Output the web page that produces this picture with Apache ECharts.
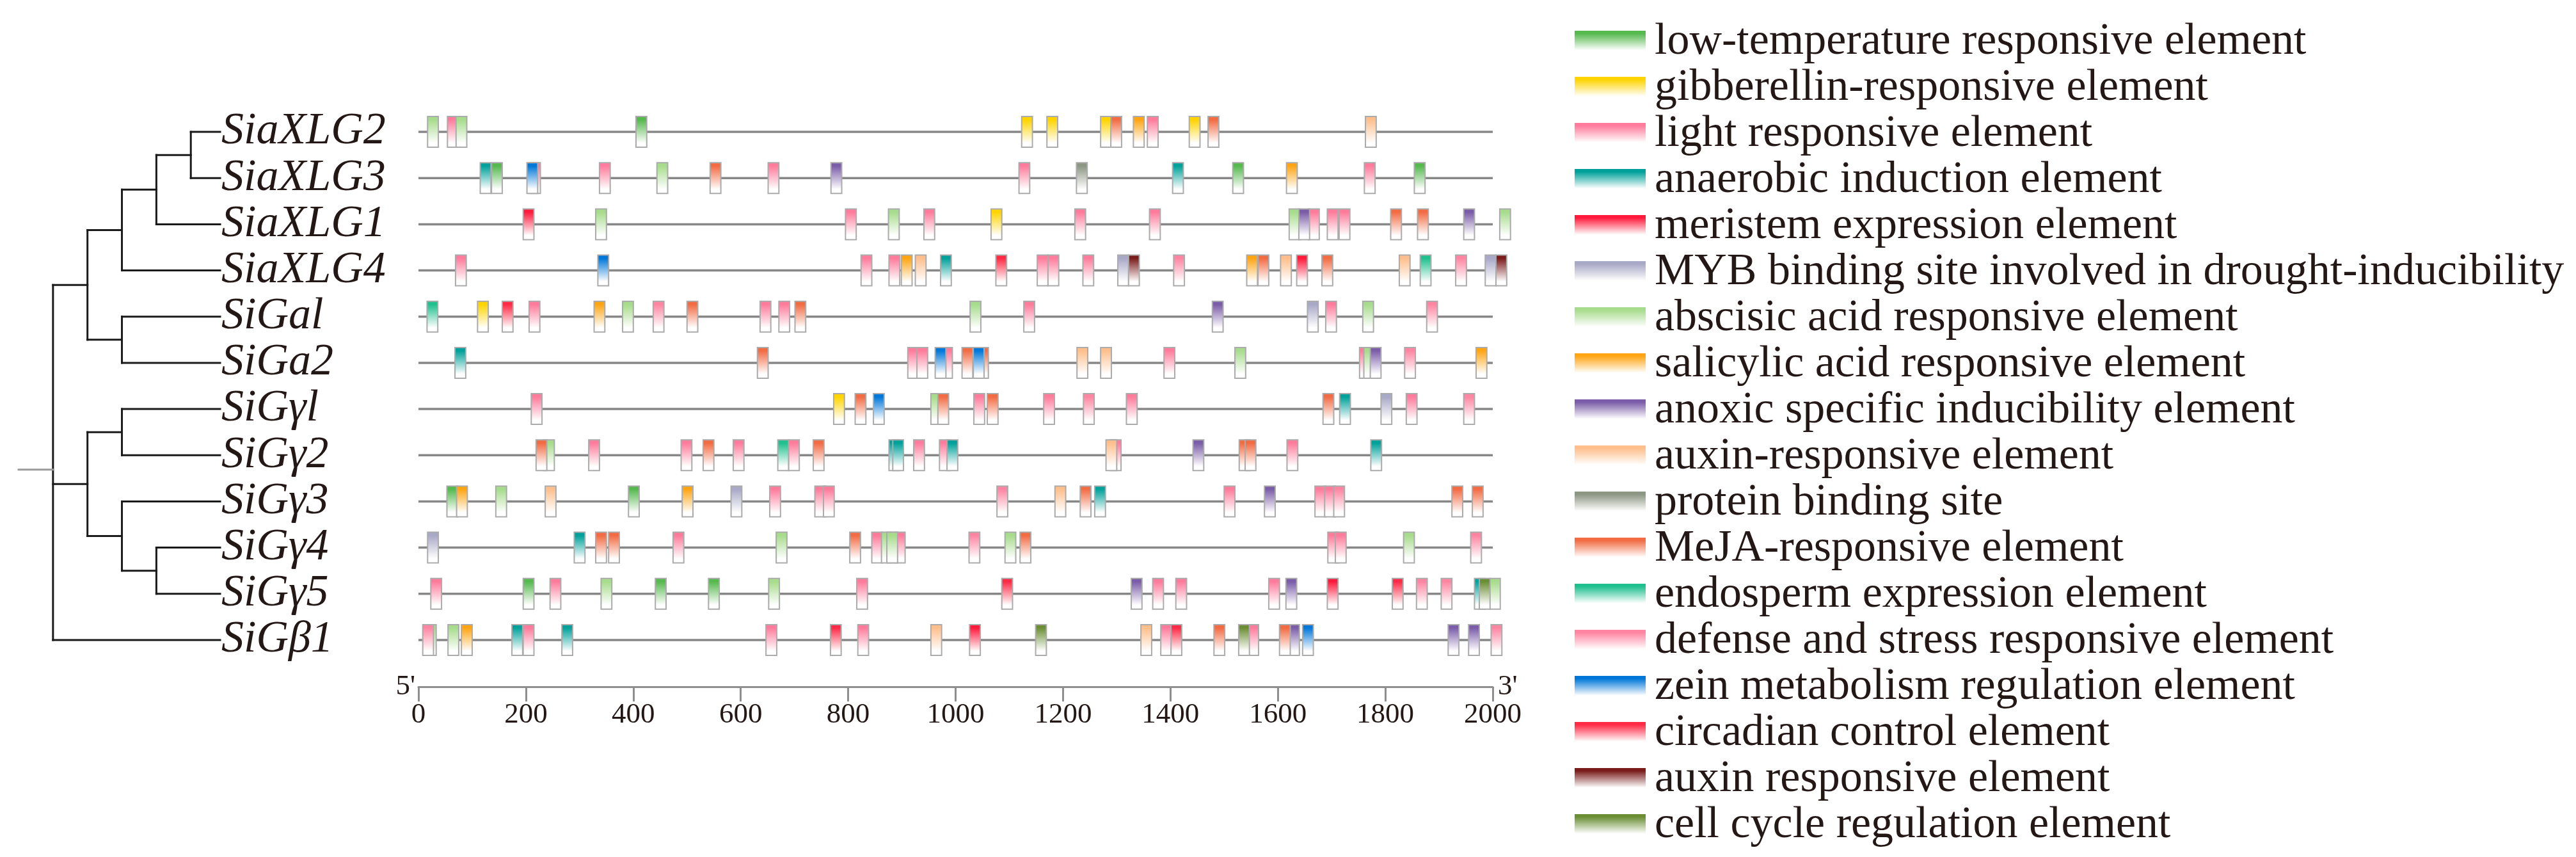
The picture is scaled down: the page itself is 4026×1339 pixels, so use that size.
<!DOCTYPE html>
<html>
<head>
<meta charset="utf-8">
<title>cis-acting elements</title>
<script src="https://cdn.jsdelivr.net/npm/echarts@6/dist/echarts.min.js"></script>
<style>
html, body { margin: 0; padding: 0; background: #fff; }
#main { width: 4026px; height: 1339px; }
</style>
</head>
<body>
<div id="main"></div>
<script type="text/javascript">
// genes, top to bottom (row index = position in this list)
var genes = ['SiaXLG2', 'SiaXLG3', 'SiaXLG1', 'SiaXLG4', 'SiGal', 'SiGa2',
             'SiGγl', 'SiGγ2', 'SiGγ3', 'SiGγ4', 'SiGγ5', 'SiGβ1'];
var geneLength = [2000, 2000, 2000, 2000, 2000, 2000, 2000, 2000, 2000, 2000, 2000, 2000];
// cladogram as nested row indices
var treeShape = [[[[[0, 1], 2], 3], [4, 5]], [[6, 7], [8, [9, 10]]], 11];
var leafDepth = 4.85;

var elementNames = [
    'low-temperature responsive element',
    'gibberellin-responsive element',
    'light responsive element',
    'anaerobic induction element',
    'meristem expression element',
    'MYB binding site involved in drought-inducibility',
    'abscisic acid responsive element',
    'salicylic acid responsive element',
    'anoxic specific inducibility element',
    'auxin-responsive element',
    'protein binding site',
    'MeJA-responsive element',
    'endosperm expression element',
    'defense and stress responsive element',
    'zein metabolism regulation element',
    'circadian control element',
    'auxin responsive element',
    'cell cycle regulation element'
];
var elementColors = ['#55b94e', '#ffd400', '#ff7b9c', '#00a19a', '#ff1a3c', '#a8a8c7',
                     '#a6dc8b', '#ffa514', '#7a5ca8', '#ffbf8c', '#8c9683', '#f26b43',
                     '#20c08e', '#ff85a2', '#0077d9', '#ff2a45', '#7a1c1c', '#6b8e34'];

// [position, row]
var lowTemp = [[415,0],[146,1],[1526,1],[1864,1],[63,8],[401,8],[205,10],[451,10],[550,10]];
var gibberellin = [[1133,0],[1180,0],[1280,0],[1445,0],[1076,2],[120,4],[783,6]];
var lightResp = [[64,0],[1367,0],
    [217,1],[347,1],[661,1],[1128,1],[1771,1],
    [805,2],[951,2],[1232,2],[1371,2],[1667,2],[1702,2],[1724,2],
    [79,3],[834,3],[886,3],[1162,3],[1182,3],[1247,3],
    [216,4],[646,4],[681,4],[1137,4],[1699,4],
    [921,5],[938,5],[984,5],[1398,5],[1762,5],
    [220,6],[1044,6],[1174,6],[1328,6],[1849,6],
    [327,7],[499,7],[596,7],[699,7],[932,7],[980,7],[1298,7],[1627,7],
    [664,8],[748,8],[764,8],[1510,8],[1679,8],[1697,8],
    [484,9],[854,9],[896,9],[1703,9],[1717,9],
    [33,10],[255,10],[826,10],[1377,10],[1420,10],[1593,10],
    [205,11],[657,11],[828,11],[1392,11],[1554,11]];
var anaerobic = [[125,1],[1414,1],[982,3],[78,5],[1725,6],[886,7],[893,7],[994,7],[1783,7],
    [1269,8],[300,9],[1976,10],[184,11],[277,11]];
var meristem = [[205,2],[1645,3],[1702,10],[1036,11]];
var mybDrought = [[1312,3],[1996,3],[1665,4],[1802,6],[592,8],[27,9]];
var abscisic = [[27,0],[80,0],[454,1],[340,2],[885,2],[1631,2],[2023,2],[390,4],[1037,4],[1768,4],
    [1530,5],[1770,5],[964,6],[243,7],[154,8],[676,9],[872,9],[882,9],[1102,9],[1844,9],
    [350,10],[662,10],[2004,10],[23,11],[65,11]];
var salicylic = [[1341,0],[1626,1],[909,3],[1552,3],[337,4],[1979,5],[81,8],[501,8],[90,11]];
var anoxic = [[778,1],[1649,2],[1956,2],[1488,4],[1782,5],[1452,7],[1585,8],[1337,10],[1625,10],
    [1630,11],[1927,11],[1965,11]];
var auxinResp1 = [[1773,0],[935,3],[1615,3],[1836,3],[1236,5],[1280,5],[1290,7],[246,8],[1195,8],
    [964,11],[1355,11]];
var proteinBind = [[1235,1]];
var meja = [[1299,0],[1480,0],[553,1],[1820,2],[1870,2],[1573,3],[1692,3],[510,4],[711,4],[641,5],
    [1022,5],[1051,5],[823,6],[977,6],[1069,6],[1694,6],[229,7],[540,7],[745,7],[1538,7],[1549,7],
    [1242,8],[1934,8],[1972,8],[340,9],[364,9],[813,9],[1130,9],[1491,11],[1613,11]];
var endosperm = [[1875,3],[26,4],[679,7]];
var defense = [[1416,3],[1941,3],[447,4],[1887,4],[1846,5],[1248,6],[1956,6],[1087,8],[1714,8],
    [1035,9],[1969,9],[1868,10],[1914,10],[18,11],[2007,11]];
var zein = [[212,1],[344,3],[972,5],[1043,5],[857,6],[1656,11]];
var circadian = [[1085,3],[166,4],[1096,10],[1823,10],[777,11],[1411,11]];
var auxinResp2 = [[1332,3],[2016,3]];
var cellCycle = [[1985,10],[1159,11],[1537,11]];

var elementSets = [lowTemp, gibberellin, lightResp, anaerobic, meristem, mybDrought, abscisic,
    salicylic, anoxic, auxinResp1, proteinBind, meja, endosperm, defense, zein, circadian,
    auxinResp2, cellCycle];

var serif = 'Liberation Serif';
var ink = '#231815';
var boxLen = 20;

function fade(color) {
    return new echarts.graphic.LinearGradient(0, 0, 0, 1, [
        {offset: 0, color: color},
        {offset: 0.12, color: color},
        {offset: 0.85, color: '#ffffff'},
        {offset: 1, color: '#ffffff'}
    ]);
}

// tree segments from the nested shape
var treeSegs = [];
function walk(node, depth) {
    if (typeof node === 'number') return {x: leafDepth, y: node};
    var kids = node.map(function (c) { return walk(c, depth + 1); });
    var y = 0;
    kids.forEach(function (k) { y += k.y; });
    y = y / kids.length;
    treeSegs.push([depth, kids[0].y, depth, kids[kids.length - 1].y, 0]);
    kids.forEach(function (k) { treeSegs.push([depth, k.y, k.x, k.y, 0]); });
    return {x: depth, y: y};
}
var rootNode = walk(treeShape, 0);
treeSegs.push([-1, rootNode.y, 0, rootNode.y, 1]);

var myChart = echarts.init(document.getElementById('main'));

var series = [];
series.push({
    type: 'custom',
    xAxisIndex: 0,
    yAxisIndex: 0,
    data: treeSegs,
    clip: false,
    silent: true,
    renderItem: function (params, api) {
        var a = api.coord([api.value(0), api.value(1)]);
        var b = api.coord([api.value(2), api.value(3)]);
        return {
            type: 'line',
            shape: {x1: a[0], y1: a[1], x2: b[0], y2: b[1]},
            style: {stroke: api.value(4) ? '#9a9a9a' : '#1a1a1a', lineWidth: 3, lineCap: 'square'}
        };
    }
});
series.push({
    type: 'custom',
    xAxisIndex: 1,
    yAxisIndex: 2,
    data: geneLength.map(function (len, i) { return [len, i]; }),
    clip: false,
    silent: true,
    z: 1,
    renderItem: function (params, api) {
        var a = api.coord([0, api.value(1)]);
        var b = api.coord([api.value(0), api.value(1)]);
        return {
            type: 'line',
            shape: {x1: a[0], y1: a[1], x2: b[0], y2: b[1]},
            style: {stroke: '#878787', lineWidth: 3.5}
        };
    }
});
elementNames.forEach(function (name, k) {
    var col = elementColors[k];
    series.push({
        type: 'custom',
        name: name,
        xAxisIndex: 1,
        yAxisIndex: 2,
        data: elementSets[k],
        clip: false,
        z: 3,
        itemStyle: {color: fade(col), borderWidth: 0},
        renderItem: function (params, api) {
            var c = api.coord([api.value(0), api.value(1)]);
            var w = api.size([boxLen, 0])[0];
            var h = 48;
            return {
                type: 'rect',
                shape: {x: c[0] - w / 2, y: c[1] - h / 2, width: w, height: h},
                style: {fill: fade(col), stroke: '#ababab', lineWidth: 2}
            };
        }
    });
});

var nameStyle = {fontSize: 45, fontFamily: serif, color: ink};

var option = {
    animation: false,
    backgroundColor: '#ffffff',
    grid: [
        {left: 29, top: 170, width: 315, height: 866, outerBoundsMode: 'none'},
        {left: 654, top: 170, width: 1679, height: 866, outerBoundsMode: 'none'},
        {left: 654, top: 1053, width: 1679, height: 20, outerBoundsMode: 'none'}
    ],
    legend: {
        orient: 'vertical',
        left: 2456,
        top: 26,
        itemWidth: 111,
        itemHeight: 36,
        itemGap: 2,
        icon: 'rect',
        textStyle: {fontSize: 70, lineHeight: 40, fontFamily: serif, color: ink, padding: [0, 0, 0, 9]},
        data: elementNames
    },
    xAxis: [{
        gridIndex: 0, type: 'value', min: -1, max: leafDepth, show: false
    }, {
        gridIndex: 1, type: 'value', min: 0, max: 2000, show: false
    }, {
        // 5'-3' scale bar
        gridIndex: 2,
        type: 'value',
        min: 0,
        max: 2000,
        interval: 200,
        position: 'bottom',
        name: "3'",
        nameLocation: 'end',
        nameGap: 8,
        nameMoveOverlap: false,
        nameTextStyle: nameStyle,
        axisLine: {show: true, onZero: false, lineStyle: {color: '#8f8f8f', width: 3}},
        axisTick: {show: true, inside: false, length: 23, lineStyle: {color: '#8f8f8f', width: 3}},
        axisLabel: {show: true, fontSize: 45, fontFamily: serif, color: ink, margin: 22,
                    formatter: function (v) { return String(v); }},
        splitLine: {show: false}
    }, {
        gridIndex: 2,
        type: 'value',
        min: 0,
        max: 2000,
        position: 'bottom',
        name: "5'",
        nameLocation: 'start',
        nameGap: 5,
        nameMoveOverlap: false,
        nameTextStyle: nameStyle,
        axisLine: {show: false, onZero: false},
        axisTick: {show: false},
        axisLabel: {show: false},
        splitLine: {show: false}
    }],
    yAxis: [{
        gridIndex: 0, type: 'value', min: -0.5, max: 11.5, inverse: true, show: false
    }, {
        gridIndex: 0,
        type: 'category',
        data: genes,
        inverse: true,
        position: 'right',
        axisLine: {show: false},
        axisTick: {show: false},
        splitLine: {show: false},
        axisLabel: {interval: 0, margin: 2, fontSize: 70, fontStyle: 'italic',
                    fontFamily: serif, color: ink, padding: [0, 0, 14, 0]}
    }, {
        gridIndex: 1, type: 'value', min: -0.5, max: 11.5, inverse: true, show: false
    }, {
        gridIndex: 2, type: 'value', min: 0, max: 1, show: false
    }],
    series: series
};
myChart.setOption(option);
</script>
</body>
</html>
